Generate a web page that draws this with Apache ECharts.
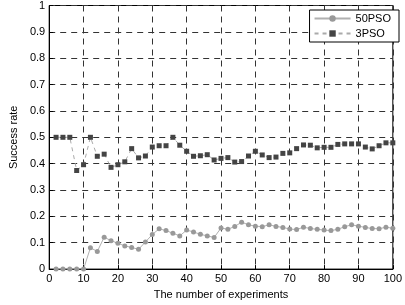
<!DOCTYPE html>
<html>
<head>
<meta charset="utf-8">
<script src="https://cdn.jsdelivr.net/npm/echarts@6/dist/echarts.min.js"></script>
<style>
html,body{margin:0;padding:0;background:#fff;}
#container{width:405px;height:305px;}
</style>
</head>
<body>
<div id="container"></div>
<script>
// experiment index (every 2nd experiment)
var experiments = [2,4,6,8,10,12,14,16,18,20,22,24,26,28,30,32,34,36,38,40,
    42,44,46,48,50,52,54,56,58,60,62,64,66,68,70,72,74,76,78,80,
    82,84,86,88,90,92,94,96,98,100];
// success rate of 50PSO
var pso50 = [0,0,0,0,0,0.081,0.067,0.121,0.108,0.098,
    0.088,0.082,0.075,0.103,0.131,0.153,0.146,0.136,0.126,0.148,
    0.141,0.132,0.126,0.120,0.156,0.151,0.162,0.178,0.168,0.163,
    0.161,0.168,0.162,0.158,0.152,0.150,0.159,0.154,0.151,0.148,
    0.146,0.151,0.161,0.168,0.163,0.158,0.154,0.153,0.159,0.155];
// success rate of 3PSO
var pso3 = [0.5,0.5,0.5,0.374,0.396,0.5,0.428,0.436,0.386,0.396,
    0.407,0.457,0.422,0.429,0.463,0.468,0.468,0.5,0.47,0.447,
    0.428,0.43,0.434,0.414,0.42,0.423,0.406,0.408,0.429,0.447,
    0.433,0.423,0.425,0.439,0.441,0.457,0.471,0.47,0.46,0.462,
    0.462,0.473,0.475,0.475,0.475,0.463,0.456,0.468,0.479,0.479];
var xTicks = [0,10,20,30,40,50,60,70,80,90,100];
var yTicks = [0,0.1,0.2,0.3,0.4,0.5,0.6,0.7,0.8,0.9,1];

var font = 'Liberation Sans, Arial, sans-serif';

var myChart = echarts.init(document.getElementById('container'), null, {renderer:'canvas'});

function pairs(ys){
    return experiments.map(function(x,i){ return [x, ys[i]]; });
}

var gridDash = {show:true, lineStyle:{color:'#333', width:1, type:[6,5]}};

var option = {
    animation:false,
    backgroundColor:'#fff',
    textStyle:{fontFamily:font},
    grid:{left:35.5, right:9.5, top:4, bottom:29, show:true, borderColor:'#000', borderWidth:1},
    legend:{
        right:6, top:10,
        orient:'vertical',
        itemWidth:36, itemHeight:8, itemGap:4,
        padding:[3,8,3,4],
        borderColor:'#000', borderWidth:1,
        backgroundColor:'#fff',
        textStyle:{fontFamily:font, fontSize:11, color:'#000'},
        data:['50PSO','3PSO']
    },
    xAxis:{
        type:'value', min:0, max:100, interval:10,
        name:'The number of experiments', nameLocation:'middle', nameGap:18,
        nameTextStyle:{fontFamily:font, fontSize:11, color:'#000'},
        axisLine:{show:true, lineStyle:{color:'#000'}},
        axisTick:{show:true, inside:true, length:4, lineStyle:{color:'#000'}},
        axisLabel:{fontFamily:font, fontSize:11, color:'#000', margin:4,
            formatter:function(v){ return xTicks.indexOf(v) >= 0 ? String(v) : ''; }},
        splitLine:gridDash
    },
    yAxis:{
        type:'value', min:0, max:1, interval:0.1,
        name:'Success rate', nameLocation:'middle', nameGap:26, nameRotate:90,
        nameTextStyle:{fontFamily:font, fontSize:11, color:'#000'},
        axisLine:{show:true, lineStyle:{color:'#000'}},
        axisTick:{show:true, inside:true, length:4, lineStyle:{color:'#000'}},
        axisLabel:{fontFamily:font, fontSize:11, color:'#000', margin:4,
            formatter:function(v){
                var r = Math.round(v*10)/10;
                return yTicks.indexOf(r) >= 0 ? String(r) : '';
            }},
        splitLine:gridDash
    },
    series:[
        {
            name:'50PSO', type:'line',
            data:pairs(pso50),
            symbol:'circle', symbolSize:5,
            itemStyle:{color:'#999'},
            lineStyle:{color:'#b0b0b0', width:1, type:'solid'}
        },
        {
            name:'3PSO', type:'line',
            data:pairs(pso3),
            symbol:'rect', symbolSize:5,
            itemStyle:{color:'#444'},
            lineStyle:{color:'#aaa', width:1, type:[4,4]}
        }
    ]
};
myChart.setOption(option);
</script>
</body>
</html>
